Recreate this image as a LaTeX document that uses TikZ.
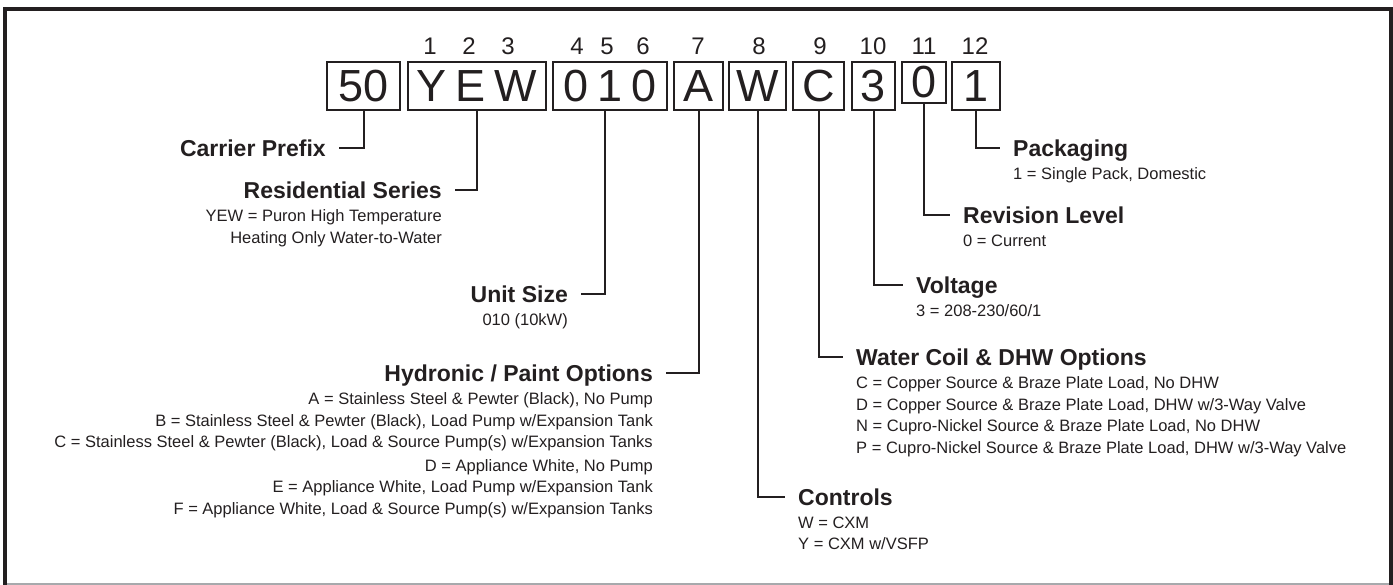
\documentclass[tikz,border=0pt]{standalone}
\usepackage{fontspec}
\setmainfont{Liberation Sans}
\usetikzlibrary{positioning}
\definecolor{cInk}{HTML}{231F20}
\definecolor{cRule}{HTML}{A7A9AC}

\begin{document}
\begin{tikzpicture}[x=1pt,y=-1pt,
      box/.style={draw=cInk,line width=2.4pt,inner sep=0pt,text=cInk,font=\fontsize{45}{45}\selectfont},
      num/.style={text=cInk,inner sep=0pt,font=\fontsize{24}{24}\selectfont},
      lbl/.style={text=cInk,inner xsep=13pt,inner ysep=0pt,text height=16.5pt,text depth=0pt,font=\bfseries\fontsize{23}{27}\selectfont},
      sub/.style={text=cInk,inner xsep=13pt,inner ysep=0pt,font=\fontsize{16.5}{21.5}\selectfont},
      wire/.style={draw=cInk,line width=2pt}]
    \useasboundingbox (0,0) rectangle (1393,585);
    \draw[line width=1.5pt,cRule] (3,584) -- (1393,584);
    \draw[line width=4pt,cInk] (5,585) -- (5,9) -- (1390.5,9) -- (1390.5,585);
    % model number boxes
    \foreach \v/\x in {1/430,2/469,3/508,4/577,5/607,6/643,7/698,8/759,9/820,10/873,11/924,12/975}
      \node[num] (n\v) at (\x,46) {\v};
    \foreach \nm/\x/\w/\h/\t in {b1/363.5/73/48/50,b2/477/138/48/{Y\hspace{9pt}E\hspace{9pt}W},
        b3/610/114/48/{0\hspace{9pt}1\hspace{9pt}0},b4/698.5/49/48/A,b5/757.5/57/48/W,
        b6/818.5/51/48/C,b7/873.5/43/48/3,b8/924/44/41/0,b9/976/48/48/1}
      \node[box,minimum width=\w pt,minimum height=\h pt] (\nm) at (\x,{62+\h/2}) {\t};
    % left side
    \node[lbl,anchor=east] (lPrefix) at (339,148) {Carrier Prefix};
    \node[lbl,anchor=east] (lSeries) at (455,190) {Residential Series};
    \node[sub,align=right,below=11pt of lSeries.south east,anchor=north east] (sSeries)
      {YEW = Puron High Temperature\\Heating Only Water-to-Water};
    \node[lbl,anchor=east] (lSize) at (581,294) {Unit Size};
    \node[sub,align=right,below=11pt of lSize.south east,anchor=north east] (sSize) {010 (10kW)};
    \node[lbl,anchor=east] (lHydro) at (666,373) {Hydronic / Paint Options};
    \node[sub,align=right,below=11pt of lHydro.south east,anchor=north east] (sHydro)
      {A = Stainless Steel \& Pewter (Black), No Pump\\
       B = Stainless Steel \& Pewter (Black), Load Pump w/Expansion Tank\\
       C = Stainless Steel \& Pewter (Black), Load \& Source Pump(s) w/Expansion Tanks\\[2pt]
       D = Appliance White, No Pump\\
       E = Appliance White, Load Pump w/Expansion Tank\\
       F = Appliance White, Load \& Source Pump(s) w/Expansion Tanks};
    % right side
    \node[lbl,anchor=west] (lPack) at (1000,148) {Packaging};
    \node[sub,align=left,below=11pt of lPack.south west,anchor=north west] (sPack) {1 = Single Pack, Domestic};
    \node[lbl,anchor=west] (lRev) at (950,215) {Revision Level};
    \node[sub,align=left,below=11pt of lRev.south west,anchor=north west] (sRev) {0 = Current};
    \node[lbl,anchor=west] (lVolt) at (903,285) {Voltage};
    \node[sub,align=left,below=11pt of lVolt.south west,anchor=north west] (sVolt) {3 = 208-230/60/1};
    \node[lbl,anchor=west] (lCoil) at (843,357) {Water Coil \& DHW Options};
    \node[sub,align=left,below=11pt of lCoil.south west,anchor=north west] (sCoil)
      {C = Copper Source \& Braze Plate Load, No DHW\\
       D = Copper Source \& Braze Plate Load, DHW w/3-Way Valve\\
       N = Cupro-Nickel Source \& Braze Plate Load, No DHW\\
       P = Cupro-Nickel Source \& Braze Plate Load, DHW w/3-Way Valve};
    \node[lbl,anchor=west] (lCtrl) at (785,497) {Controls};
    \node[sub,align=left,below=11pt of lCtrl.south west,anchor=north west] (sCtrl)
      {W = CXM\\Y = CXM w/VSFP};
    % connectors
    \draw[wire] (b1.south) |- (lPrefix.east);
    \draw[wire] (b2.south) |- (lSeries.east);
    \draw[wire] ([xshift=-5pt]b3.south) |- (lSize.east);
    \draw[wire] (b4.south) |- (lHydro.east);
    \draw[wire] (b5.south) |- (lCtrl.west);
    \draw[wire] (b6.south) |- (lCoil.west);
    \draw[wire] (b7.south) |- (lVolt.west);
    \draw[wire] (b8.south) |- (lRev.west);
    \draw[wire] (b9.south) |- (lPack.west);
\end{tikzpicture}
\end{document}
